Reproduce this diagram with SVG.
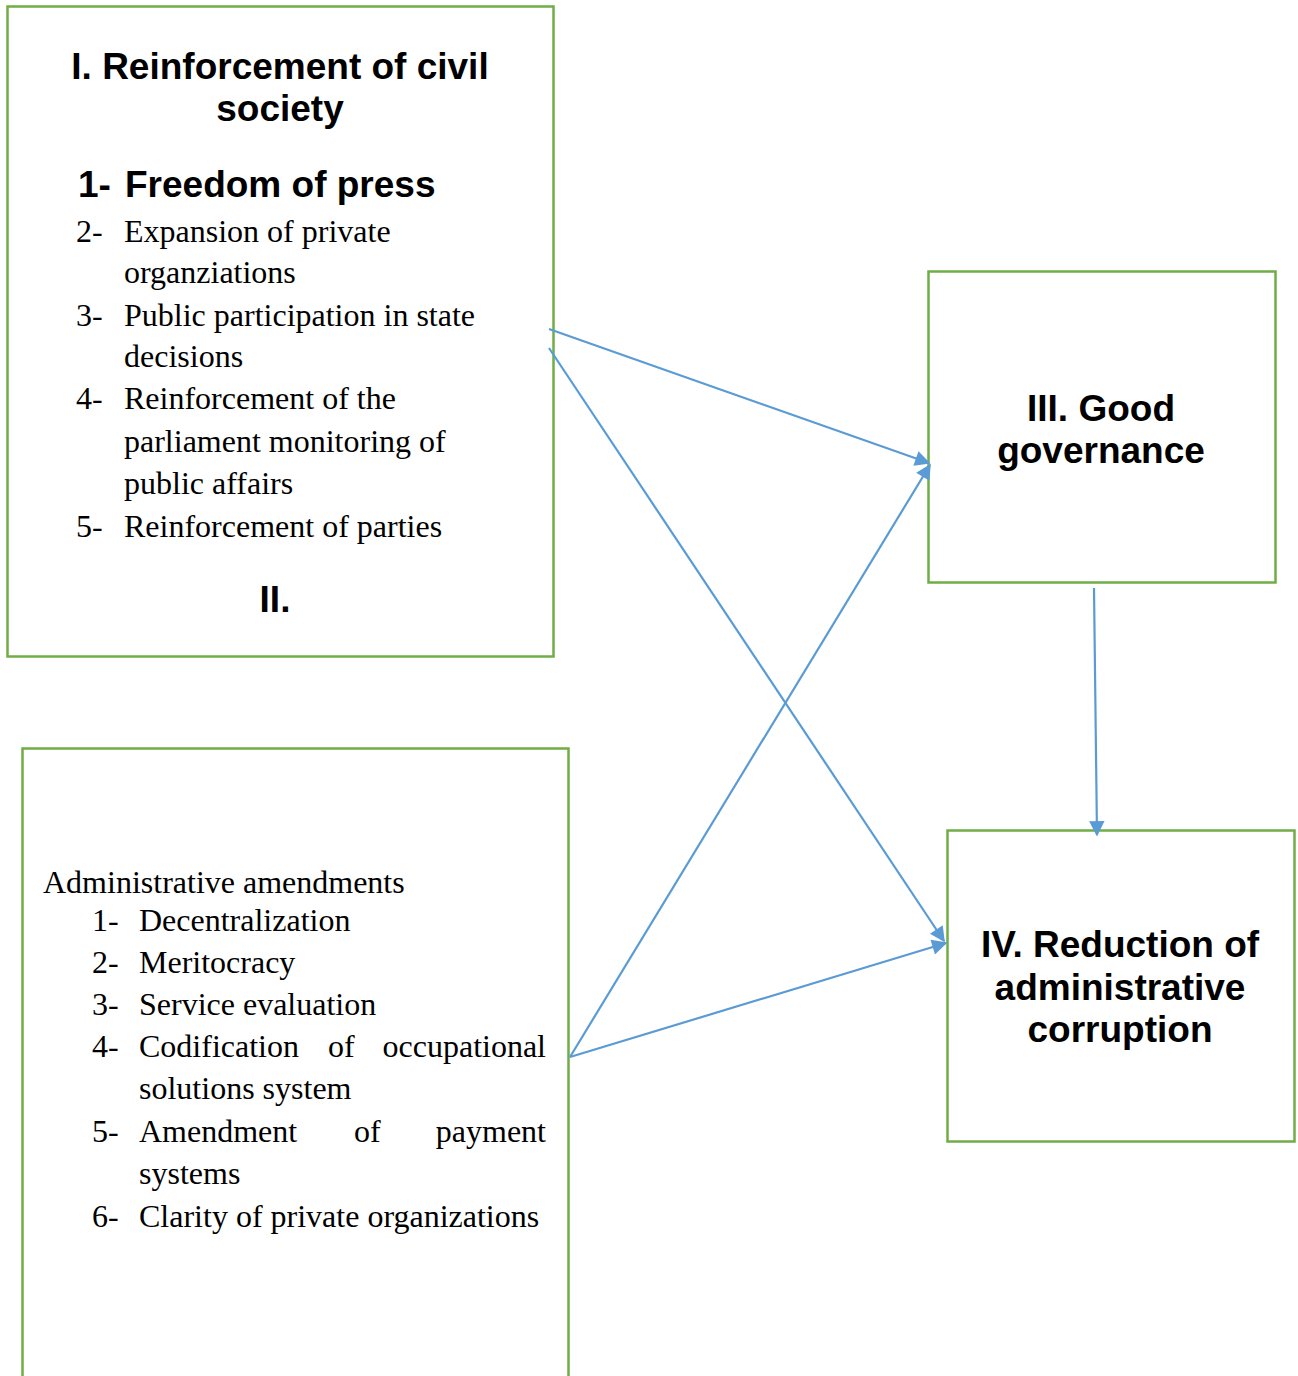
<svg xmlns="http://www.w3.org/2000/svg" width="1298" height="1376" viewBox="0 0 1298 1376">
<style>
.box{fill:#fff;stroke:#70AD47;stroke-width:2.5}
.h{font-family:"Liberation Sans",Arial,sans-serif;font-weight:bold;font-size:37px;fill:#000}
.t{font-family:"Liberation Serif","Times New Roman",serif;font-size:32px;fill:#000}
.c{stroke:#5B9BD5;stroke-width:2.2;fill:none;marker-end:url(#ah)}
</style>
<defs>
<marker id="ah" viewBox="0 0 10 10" refX="9" refY="5" markerWidth="8" markerHeight="7" markerUnits="strokeWidth" orient="auto">
<path d="M0,0 L10,5 L0,10 z" fill="#5B9BD5"/>
</marker>
</defs>
<rect width="1298" height="1376" fill="#fff"/>
<g id="node1">
<rect class="box" x="7.5" y="6.5" width="546" height="650"/>
<text class="h" x="280" y="79" text-anchor="middle">I. Reinforcement of civil</text>
<text class="h" x="280" y="121" text-anchor="middle">society</text>
<text class="h" x="78" y="197">1-</text>
<text class="h" x="125" y="197">Freedom of press</text>
<text class="t" x="76" y="242">2-</text>
<text class="t" x="124" y="242">Expansion of private</text>
<text class="t" x="124" y="283">organziations</text>
<text class="t" x="76" y="326">3-</text>
<text class="t" x="124" y="326">Public participation in state</text>
<text class="t" x="124" y="367">decisions</text>
<text class="t" x="76" y="409">4-</text>
<text class="t" x="124" y="409">Reinforcement of the</text>
<text class="t" x="124" y="452">parliament monitoring of</text>
<text class="t" x="124" y="494">public affairs</text>
<text class="t" x="76" y="537">5-</text>
<text class="t" x="124" y="537">Reinforcement of parties</text>
<text class="h" x="275" y="612" text-anchor="middle">II.</text>
</g>
<g id="node2">
<rect class="box" x="22.5" y="748.5" width="546" height="660"/>
<text class="t" x="43" y="893">Administrative amendments</text>
<text class="t" x="92" y="931">1-</text>
<text class="t" x="139" y="931">Decentralization</text>
<text class="t" x="92" y="973">2-</text>
<text class="t" x="139" y="973">Meritocracy</text>
<text class="t" x="92" y="1015">3-</text>
<text class="t" x="139" y="1015">Service evaluation</text>
<text class="t" x="92" y="1057">4-</text>
<text class="t" x="139" y="1057">Codification</text>
<text class="t" x="328" y="1057">of</text>
<text class="t" x="546" y="1057" text-anchor="end">occupational</text>
<text class="t" x="139" y="1099">solutions system</text>
<text class="t" x="92" y="1142">5-</text>
<text class="t" x="139" y="1142">Amendment</text>
<text class="t" x="354" y="1142">of</text>
<text class="t" x="546" y="1142" text-anchor="end">payment</text>
<text class="t" x="139" y="1184">systems</text>
<text class="t" x="92" y="1227">6-</text>
<text class="t" x="139" y="1227">Clarity of private organizations</text>
</g>
<g id="node3">
<rect class="box" x="928.5" y="271.5" width="347" height="311"/>
<text class="h" x="1101" y="421" text-anchor="middle">III. Good</text>
<text class="h" x="1101" y="463" text-anchor="middle">governance</text>
</g>
<g id="node4">
<rect class="box" x="947.5" y="830.5" width="347" height="311"/>
<text class="h" x="1120" y="957" text-anchor="middle">IV. Reduction of</text>
<text class="h" x="1120" y="1000" text-anchor="middle">administrative</text>
<text class="h" x="1120" y="1042" text-anchor="middle">corruption</text>
</g>
<g id="connectors">
<line class="c" x1="549" y1="329" x2="929" y2="463"/>
<line class="c" x1="549" y1="348" x2="944" y2="941"/>
<line class="c" x1="570" y1="1057" x2="930" y2="465"/>
<line class="c" x1="570" y1="1057" x2="946" y2="943"/>
<line class="c" x1="1094" y1="588" x2="1097" y2="835"/>
</g>
</svg>
